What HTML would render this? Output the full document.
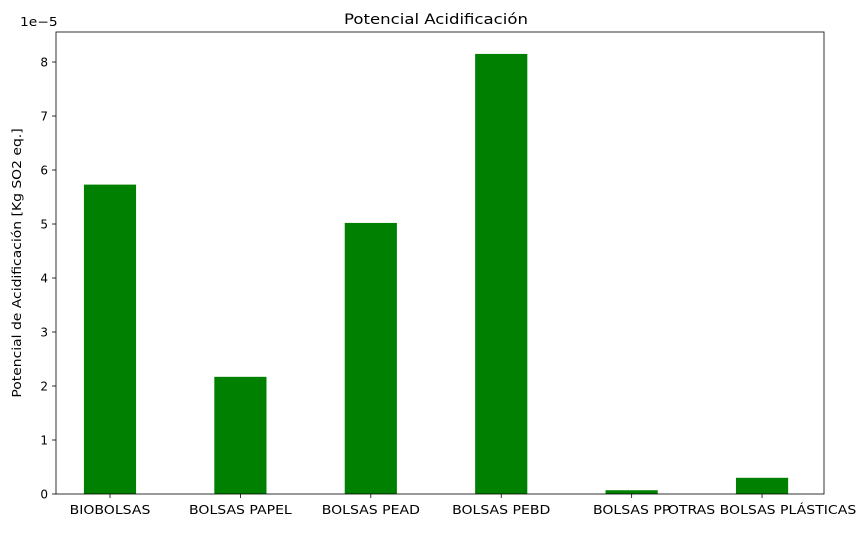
<!DOCTYPE html>
<html><head><meta charset="utf-8"><style>
body{margin:0;background:#fff;font-family:"Liberation Sans","DejaVu Sans",sans-serif;}
svg text{font-family:"DejaVu Sans","Liberation Sans",sans-serif;}
</style></head><body>
<svg id="chart" width="865" height="528" xmlns="http://www.w3.org/2000/svg"></svg>
<script>
const categories=["BIOBOLSAS","BOLSAS PAPEL","BOLSAS PEAD","BOLSAS PEBD","BOLSAS PP","OTRAS BOLSAS PLÁSTICAS"];
const values=[5.73,2.17,5.02,8.15,0.07,0.30];
const yTicks=[0,1,2,3,4,5,6,7,8];
const L=56,R=824,T=32,B=494;
const xMin=-0.414,xMax=5.475,yMax=8.556;
const svg=document.getElementById('chart');
const NS="http://www.w3.org/2000/svg";
function x(v){return L+(v-xMin)/(xMax-xMin)*(R-L);}
function y(v){return B-v/yMax*(B-T);}
function mk(tag,attrs,txt){const e=document.createElementNS(NS,tag);for(const k in attrs)e.setAttribute(k,attrs[k]);if(txt!==undefined)e.textContent=txt;svg.appendChild(e);return e;}
function stretch(t,f){const w=t.getComputedTextLength();t.setAttribute('textLength',w*f);t.setAttribute('lengthAdjust','spacingAndGlyphs');}
const bw=(x(0.4)-x(0));
categories.forEach((c,i)=>{
  const r=mk('rect',{x:x(i)-bw/2,y:y(values[i]),width:bw,height:B-y(values[i]),fill:'#008000'});
  
  
  mk('line',{x1:x(i),x2:x(i),y1:B,y2:B+4,stroke:'#000','stroke-width':0.8});
  const t=mk('text',{x:x(i),y:B+20,'text-anchor':'middle','font-size':12},c);
  
  
  stretch(t,1.17);
});
yTicks.forEach(v=>{
  mk('line',{x1:L-4,x2:L,y1:y(v),y2:y(v),stroke:'#000','stroke-width':0.8});
  const t=mk('text',{x:L-8,y:y(v)+4.5,'text-anchor':'end','font-size':12},v);
  
  
});
const f=mk('rect',{x:L,y:T,width:R-L,height:B-T,fill:'none',stroke:'#000','stroke-width':0.8});


const off=mk('text',{x:20,y:T-6,'font-size':12},'1e−5');


stretch(off,1.15);
const ti=mk('text',{x:(L+R)/2-4,y:T-8,'text-anchor':'middle','font-size':14},'Potencial Acidificación');


stretch(ti,1.18);
const yl=mk('text',{x:21,y:(T+B)/2,'text-anchor':'middle','font-size':12,transform:'rotate(-90 21 '+((T+B)/2)+')'},'Potencial de Acidificación [Kg SO2 eq.]');


stretch(yl,1.16);
</script>
</body></html>
